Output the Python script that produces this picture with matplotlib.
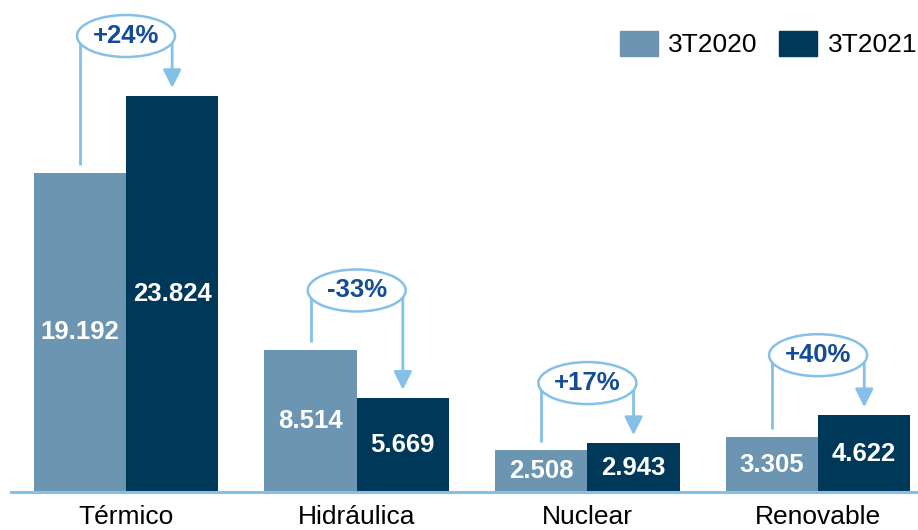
import matplotlib
matplotlib.use("Agg")
import matplotlib.pyplot as plt
from matplotlib.patches import Ellipse, Patch
import numpy as np

plt.rcParams['font.family'] = ['Liberation Sans', 'DejaVu Sans']

categories = ["Térmico", "Hidráulica", "Nuclear", "Renovable"]
series_names = ["3T2020", "3T2021"]
values_2020 = [19.192, 8.514, 2.508, 3.305]
values_2021 = [23.824, 5.669, 2.943, 4.622]
change_labels = ["+24%", "-33%", "+17%", "+40%"]
value_labels_2020 = ["19.192", "8.514", "2.508", "3.305"]
value_labels_2021 = ["23.824", "5.669", "2.943", "4.622"]

c_light = "#6b95b0"
c_dark = "#00385a"
c_arrow = "#84c0e8"
c_text = "#144c98"

W, H = 918, 530
fig = plt.figure(figsize=(W / 100, H / 100), dpi=100)
ax = fig.add_axes([11 / W, 1 - 492 / H, 907 / W, 492 / H])
ax.set_xlim(-0.4985, 3.433)
ax.set_ylim(0, 29.6)

x = np.arange(len(categories))
bw = 0.4
b1 = ax.bar(x - bw / 2, values_2020, width=bw, color=c_light, zorder=2)
b2 = ax.bar(x + bw / 2, values_2021, width=bw, color=c_dark, zorder=2)

for rect, lab in zip(b1, value_labels_2020):
    ax.text(rect.get_x() + rect.get_width() / 2, rect.get_height() / 2, lab,
            ha="center", va="center", color="white", fontsize=18.5, fontweight="bold", zorder=3)
for rect, lab in zip(b2, value_labels_2021):
    ax.text(rect.get_x() + rect.get_width() / 2, rect.get_height() / 2, lab,
            ha="center", va="center", color="white", fontsize=18.5, fontweight="bold", zorder=3)

# pixel -> data conversions
px_y = 29.6 / 492
px_x = 3.9315 / 907

for i, (v1, v2, lab) in enumerate(zip(values_2020, values_2021, change_labels)):
    xl, xr = i - bw / 2, i + bw / 2
    ye = max(v1, v2) + 60 * px_y
    gap = 8 * px_y
    ax.plot([xl, xl], [v1 + gap, ye], color=c_arrow, lw=2.0, zorder=4, solid_capstyle="butt")
    ax.annotate("", xy=(xr, v2 + gap), xytext=(xr, ye),
                arrowprops=dict(arrowstyle="-|>,head_length=1.1,head_width=0.55",
                                mutation_scale=10, color=c_arrow, lw=2.0,
                                shrinkA=0, shrinkB=0), zorder=4)
    ell = Ellipse((i, ye), width=98 * px_x, height=42 * px_y, facecolor="white",
                  edgecolor=c_arrow, lw=1.8, zorder=5)
    ax.add_patch(ell)
    ax.text(i, ye, lab, ha="center", va="center", color=c_text, fontsize=18.5,
            fontweight="bold", zorder=6)

ax.set_xticks(x)
ax.set_xticklabels(categories, fontsize=19)
ax.tick_params(axis="x", length=0, pad=9)
ax.set_yticks([])
for s in ["top", "right", "left"]:
    ax.spines[s].set_visible(False)
ax.spines["bottom"].set_color(c_arrow)
ax.spines["bottom"].set_linewidth(2.2)

handles = [Patch(color=c_light), Patch(color=c_dark)]
fig.legend(handles, series_names, loc="upper right", ncol=2, frameon=False,
           bbox_to_anchor=(917 / W, 1 - 31 / H), fontsize=19,
           handlelength=1.44, handleheight=1.06, handletextpad=0.4,
           columnspacing=0.8, borderpad=0, borderaxespad=0)

fig.savefig("out.png", dpi=100)
